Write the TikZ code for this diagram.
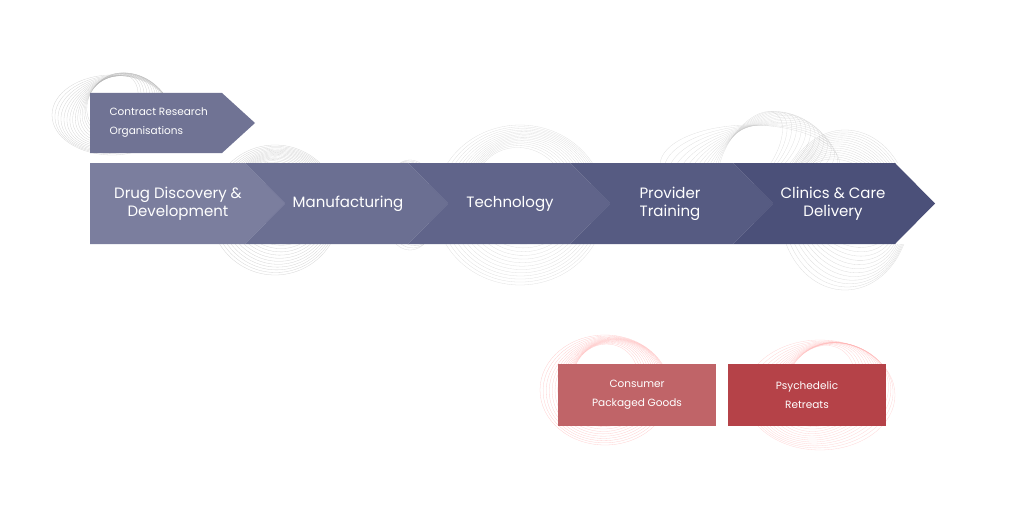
\documentclass[tikz,border=0pt]{standalone}
\usepackage{fontspec}
\setmainfont{Poppins}
\begin{document}
\begin{tikzpicture}[x=1pt,y=-1pt,
  lbl/.style={text=white,align=center,font=\fontsize{15}{18}\selectfont},
  slbl/.style={text=white,align=center,font=\fontsize{10.5}{19}\selectfont},
  blob/.style={draw=#1,line width=0.3pt,opacity=0.55}]
\useasboundingbox (0,0) rectangle (1024,516);
% decorative contour blobs
\foreach \cx/\cy/\rx/\ry/\c in {112/115/60/40/gray!60, 275/210/65/65/gray!60, 410/205/28/45/gray!50, 520/205/85/80/gray!45, 750/165/90/40/gray!45, 845/210/65/80/gray!50, 605/390/65/55/red!35, 820/395/75/55/red!30}{
  \foreach \k in {0,...,14}{
    \draw[blob=\c,rotate around={\k*4:(\cx,\cy)}] (\cx+\k*0.8,\cy-\k*0.5) ellipse ({\rx*(1-\k*0.035)} and {\ry*(1-\k*0.03)});
  }
}
% chevrons
\fill[fill=white] (90,163) rectangle (935,244);
\fill[fill={rgb,255:red,123;green,126;blue,158}] (90,163)--(245,163)--(285,203.5)--(245,244)--(90,244)--cycle;
\fill[fill={rgb,255:red,107;green,111;blue,146}] (245,163)--(408,163)--(448,203.5)--(408,244)--(245,244)--(285,203.5)--cycle;
\fill[fill={rgb,255:red,96;green,100;blue,138}] (408,163)--(570,163)--(610,203.5)--(570,244)--(408,244)--(448,203.5)--cycle;
\fill[fill={rgb,255:red,86;green,91;blue,130}] (570,163)--(733,163)--(773,203.5)--(733,244)--(570,244)--(610,203.5)--cycle;
\fill[fill={rgb,255:red,75;green,80;blue,121}] (733,163)--(895,163)--(935,203.5)--(895,244)--(733,244)--(773,203.5)--cycle;
\node[lbl] (a) at (178,204) {Drug Discovery \&\\Development};
\node[lbl] (b) at (348,204) {Manufacturing};
\node[lbl] (c) at (510,204) {Technology};
\node[lbl] (d) at (670,204) {Provider\\Training};
\node[lbl] (e) at (833,204) {Clinics \& Care\\Delivery};
% contract research
\fill[fill={rgb,255:red,112;green,115;blue,148}] (90,93)--(222,93)--(255,123)--(222,153)--(90,153)--cycle;
\node[slbl,align=left,anchor=west] (f) at (106,123) {Contract Research\\Organisations};
% red boxes
\node[slbl,fill={rgb,255:red,192;green,100;blue,104},minimum width=158pt,minimum height=62pt,inner sep=0pt] (g) at (637,395) {Consumer\\Packaged Goods};
\node[slbl,fill={rgb,255:red,181;green,66;blue,72},minimum width=158pt,minimum height=62pt,inner sep=0pt] (h) at (807,395) {Psychedelic\\Retreats};
\end{tikzpicture}
\end{document}
